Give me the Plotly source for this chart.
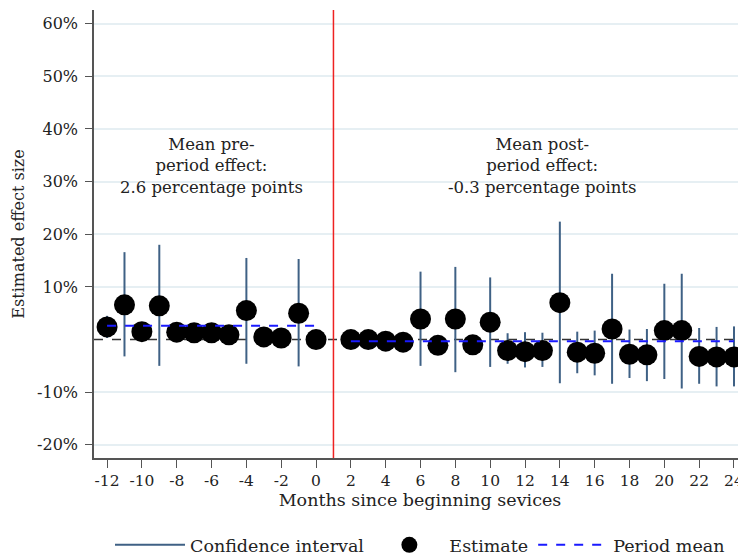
import plotly.graph_objects as go

months = list(range(-12, 1)) + list(range(2, 25))
estimate = [2.4, 6.6, 1.5, 6.4, 1.4, 1.3, 1.3, 0.9, 5.5, 0.5, 0.3, 5.0, 0.0,
            0.0, 0.0, -0.3, -0.5, 3.9, -1.1, 3.9, -1.0, 3.3, -2.1, -2.3, -2.1,
            7.0, -2.4, -2.6, 2.0, -2.8, -2.9, 1.7, 1.7, -3.2, -3.3, -3.3]
ci_low = [0.3, -3.2, 0.0, -5.0, 0.0, 0.0, 0.0, -0.3, -4.6, -0.8, -1.0, -5.1, 0.0,
          -1.0, -1.0, -1.3, -1.6, -5.0, -2.3, -6.2, -2.2, -5.2, -4.6, -5.3, -5.2,
          -8.3, -6.4, -6.8, -8.4, -7.3, -7.9, -7.5, -9.3, -8.4, -8.9, -8.9]
ci_high = [4.5, 16.6, 3.0, 18.0, 2.6, 2.5, 2.5, 2.0, 15.5, 1.8, 1.6, 15.3, 0.0,
           1.0, 1.0, 0.8, 0.6, 12.9, 0.1, 13.8, 0.2, 11.8, 1.2, 1.4, 1.3,
           22.4, 1.5, 1.7, 12.5, 1.9, 2.0, 10.6, 12.5, 2.2, 2.4, 2.5]
pre_months = [-12, 0]
post_months = [2, 24]
pre_mean = 2.6
post_mean = -0.3
event_month = 1
y_ticks = [-20, -10, 10, 20, 30, 40, 50, 60]
y_ticklabels = [f"{v}%" for v in y_ticks]
x_ticks = list(range(-12, 25, 2))
x_ticklabels = [str(v) for v in x_ticks]

FONT = "DejaVu Serif"
TXT = "#222222"

ci_x, ci_y = [], []
for m, lo, hi in zip(months, ci_low, ci_high):
    ci_x += [m, m, None]
    ci_y += [lo, hi, None]

fig = go.Figure()
fig.add_trace(go.Scatter(x=ci_x, y=ci_y, mode="lines", name="Confidence interval",
                         line=dict(color="#3f6185", width=2), hoverinfo="skip"))
fig.add_trace(go.Scatter(x=months, y=estimate, mode="markers", name="Estimate",
                         marker=dict(color="black", size=21)))
fig.add_trace(go.Scatter(x=pre_months + [None] + post_months,
                         y=[pre_mean, pre_mean, None, post_mean, post_mean],
                         mode="lines", name="Period mean",
                         line=dict(color="#1a1aff", width=2, dash="dash")))

fig.add_shape(type="line", xref="x domain", yref="y", x0=0, x1=1, y0=0, y1=0,
              line=dict(color="#333333", width=1.5, dash="dash"), layer="below")
fig.add_shape(type="line", xref="x", yref="y domain", x0=event_month, x1=event_month,
              y0=0, y1=1, line=dict(color="#ee2222", width=1.5))

fig.add_annotation(x=-6, y=33, xref="x", yref="y", showarrow=False,
                   text=f"Mean pre-<br>period effect:<br>{pre_mean} percentage points",
                   font=dict(family=FONT, size=16.5, color=TXT), align="center")
fig.add_annotation(x=13, y=33, xref="x", yref="y", showarrow=False,
                   text=f"Mean post-<br>period effect:<br>{post_mean} percentage points",
                   font=dict(family=FONT, size=16.5, color=TXT), align="center")

fig.update_layout(
    width=738, height=556,
    margin=dict(l=86, r=0, t=2, b=106),
    plot_bgcolor="white", paper_bgcolor="white",
    font=dict(family=FONT, size=16, color=TXT),
    showlegend=True,
    legend=dict(orientation="h", x=0.5, xanchor="center", y=-0.194, yanchor="middle",
                font=dict(family=FONT, size=17.5, color=TXT), itemwidth=70,
                traceorder="normal"),
    xaxis=dict(range=[-12.75, 24.69], tickvals=x_ticks, ticktext=x_ticklabels,
               showgrid=False, zeroline=False, automargin=False,
               ticklabeloverflow="allow",
               showline=True, linecolor="#555555", linewidth=1.5,
               ticks="outside", ticklen=8, tickcolor="#555555", tickwidth=1.2,
               title=dict(text="Months since beginning sevices", standoff=4,
                          font=dict(family=FONT, size=17.5, color=TXT)),
               tickfont=dict(family=FONT, size=15.5, color=TXT)),
    yaxis=dict(range=[-22.5, 62.6], tickvals=y_ticks, ticktext=y_ticklabels,
               showgrid=True, gridcolor="#e6eff3", gridwidth=1.5, zeroline=False,
               showline=True, linecolor="#555555", linewidth=1.5, automargin=False,
               ticks="outside", ticklen=7, tickcolor="#555555", tickwidth=1.2,
               ticklabelstandoff=4,
               title=dict(text="Estimated effect size", standoff=8,
                          font=dict(family=FONT, size=16, color=TXT)),
               tickfont=dict(family=FONT, size=16, color=TXT)),
)

fig.write_html("out.html")
